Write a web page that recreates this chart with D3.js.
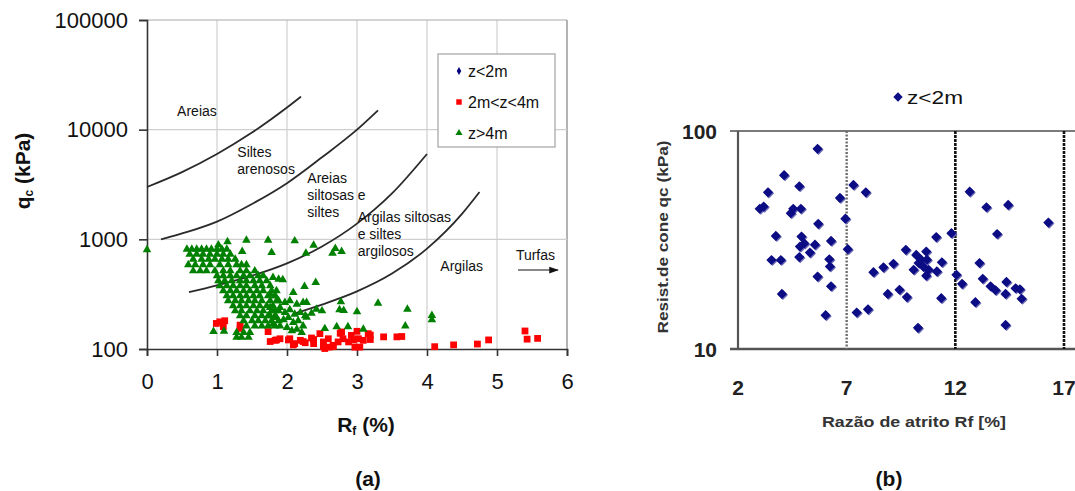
<!DOCTYPE html>
<html><head><meta charset="utf-8">
<script src="https://cdn.jsdelivr.net/npm/d3@7"></script>
<style>
body{margin:0;background:#fff;}
svg{display:block;font-family:"Liberation Sans",Arial,sans-serif;}
</style></head>
<body><svg id="c" width="1075" height="491"></svg>
<script>
// ---------- DATA: panel (a) ----------
const xTicksA = [0,1,2,3,4,5,6];
const yTicksA = [100,1000,10000,100000];
const seriesNamesA = ["z<2m","2m<z<4m","z>4m"];
// boundary curves [Rf %, qc kPa]
const boundary1 = [[0,3000],[0.5,4100],[1,6000],[1.5,9400],[2.0,15900],[2.2,20000]];
const boundary2 = [[0.2,1000],[0.6,1180],[1,1450],[1.5,2100],[2,3250],[2.5,5600],[3,10000],[3.3,15000]];
const boundary3 = [[0.6,330],[1,380],[1.5,466],[2,604],[2.5,861],[3,1390],[3.5,2620],[4,6000]];
const boundary4 = [[2.1,210],[2.5,254],[3,335],[3.5,487],[4,823],[4.5,1707],[4.75,2700]];
// 2m<z<4m (red squares)
const redPts = [[0.99,171],[1.04,177],[1.11,181],[1.09,160],[1.33,165],[1.33,154],
 [1.73,144],[1.76,117],[1.83,120],[1.85,121],[1.9,124],[2.02,121],[2.04,124],[2.09,109],[2.11,112],
 [2.19,120],[2.23,117],[2.26,114],[2.35,126],[2.38,112],[2.38,122],[2.47,138],[2.52,116],[2.52,105],
 [2.54,101],[2.59,124],[2.6,104],[2.66,108],[2.66,105],[2.73,116],[2.76,139],[2.78,143],[2.8,124],
 [2.88,116],[2.92,133],[2.95,121],[2.97,104],[3.0,145],[3.02,124],[3.04,104],[3.09,120],[3.16,138],
 [3.19,122],[3.19,134],[3.38,129],[3.57,129],[3.64,130],[4.11,105],[4.38,109],[4.72,111],[4.88,121],
 [5.4,146],[5.43,123],[5.58,125]];
// z>4m (green triangles)
const greenPts = [
 [0.0,811],[1.02,900],[1.15,959],[1.42,990],[1.73,990],[1.36,782],
 [0.57,821],[0.64,821],[0.71,821],[0.78,821],[0.85,821],[0.92,821],[1.0,821],[1.07,821],[1.14,821],
 [0.61,739],[0.71,739],[0.80,739],[0.90,739],[1.0,739],[1.09,739],[1.19,739],
 [0.66,665],[0.78,665],[0.88,665],[0.97,665],[1.07,665],[1.16,665],[1.26,665],
 [0.59,592],[0.69,592],[0.80,592],[0.90,592],[1.04,592],[1.16,592],[1.28,592],[1.35,592],[1.42,592],
 [0.66,521],[0.76,521],[0.85,521],[0.97,521],[1.09,521],[1.19,521],[1.33,521],[1.42,521],[1.54,521],
 [1.0,470],[1.09,470],[1.19,470],[1.28,470],[1.38,470],[1.47,470],[1.59,470],[1.66,470],
 [1.02,423],[1.11,423],[1.21,423],[1.33,423],[1.42,423],[1.52,423],[1.61,423],[1.71,423],
 [1.04,381],[1.14,381],[1.23,381],[1.33,381],[1.42,381],[1.54,381],[1.64,381],[1.76,381],
 [1.09,343],[1.19,343],[1.28,343],[1.38,343],[1.47,343],[1.57,343],[1.66,343],[1.78,343],[1.85,343],
 [1.14,309],[1.23,309],[1.33,309],[1.42,309],[1.52,309],[1.61,309],[1.73,309],[1.83,309],
 [1.16,278],[1.26,278],[1.35,278],[1.45,278],[1.54,278],[1.64,278],[1.76,278],[1.85,278],
 [1.23,250],[1.33,250],[1.42,250],[1.52,250],[1.61,250],[1.71,250],[1.80,250],
 [1.26,225],[1.35,225],[1.47,225],[1.57,225],[1.66,225],[1.78,225],[1.88,225],
 [1.33,203],[1.42,203],[1.54,203],[1.64,203],[1.73,203],[1.83,203],
 [1.38,183],[1.50,183],[1.59,183],[1.69,183],[1.78,183],[1.88,183],
 [1.42,164],[1.54,164],[1.64,164],[1.73,164],[1.83,164],
 [1.28,143],[1.38,143],[1.47,143],[1.28,129],[1.35,129],[1.45,129],[0.95,146],[1.10,147],
 [1.76,242],[1.83,225],[1.90,242],[1.97,217],[2.04,230],[2.11,210],[2.19,217],[2.26,203],
 [1.76,203],[1.85,196],[1.95,187],[2.02,196],[2.09,176],[2.16,183],[2.23,164],[1.80,170],
 [1.90,164],[2.0,159],[2.07,148],[2.14,153],[2.21,143],
 [1.78,766],[2.11,979],[2.38,893],[2.27,755],[2.69,833],[2.65,755],[2.78,782],
 [1.80,453],[1.88,437],[1.94,432],[2.25,375],[2.41,408],[2.09,331],[1.76,319],[1.83,309],
 [1.88,278],[1.97,268],[2.04,278],[2.14,259],[2.23,268],[2.28,268],
 [2.42,233],[2.5,225],[2.35,214],[2.77,272],[2.75,230],[2.81,227],[3.0,221],[3.30,264],
 [3.72,233],[3.69,164],[2.54,155],[2.71,161],[2.87,161],[3.09,153],[4.07,204],[4.07,187],[2.28,197]];

// ---------- DATA: panel (b) ----------
const xTicksB = [2,7,12,17];
const yTicksB = [10,100];
const dividersB = [7,12,17];
const seriesNameB = "z<2m";
const bRf = [5.66,4.12,3.38,4.82,3.0,3.18,4.43,4.54,4.89,5.69,6.69,6.94,7.05,3.74,3.54,3.97,4.02,
 4.92,5.05,4.85,5.31,5.54,4.82,6.28,6.2,6.23,5.66,6.28,6.03,7.31,7.88,7.46,7.98,8.23,8.69,9.15,8.89,
 9.43,9.77,9.72,10.28,10.08,10.2,10.31,10.42,10.66,10.69,10.54,10.66,10.77,11.15,11.12,11.38,11.35,
 11.82,12.05,12.31,12.66,12.92,13.11,13.26,13.43,13.62,13.85,13.92,14.31,14.35,14.43,14.31,14.77,
 14.97,15.05,16.28];
const bQc = [82.8,62.7,52.3,55.8,44,45,42,44,44,37.5,49.3,39.6,28.7,33,25.6,25.6,17.9,
 32.8,30.5,29.5,27.7,30.1,26.4,31.3,25.8,23.9,21.5,19.4,14.3,56.6,52.3,14.7,15.2,22.5,23.7,24.6,17.9,
 18.7,17.3,28.5,12.5,23.1,27.0,24.8,25.7,28.0,25.7,23.8,21.7,23.1,22.7,32.6,25.0,17.1,
 34.0,21.9,19.9,52.7,16.4,24.8,21.0,44.7,19.4,18.6,33.7,17.9,20.3,45.8,12.9,19.0,
 18.8,17.0,38.0];

const svg = d3.select("#c");
const FONT = '"Liberation Sans",Arial,sans-serif';

// ================= PANEL A =================
const xA = d3.scaleLinear().domain([0,6]).range([147,567]);
const yA = d3.scaleLog().domain([100,100000]).range([349,20]);
const gA = svg.append("g");

// gridlines
gA.append("g").selectAll("line").data(xTicksA.filter(d=>d>0)).join("line")
  .attr("x1",d=>xA(d)).attr("x2",d=>xA(d)).attr("y1",yA(100000)).attr("y2",yA(100))
  .attr("stroke",d=>d===6?"#9a9a9a":"#cfcfcf").attr("stroke-width",d=>d===6?1.5:1.2);
gA.append("g").selectAll("line").data(yTicksA.filter(d=>d>100)).join("line")
  .attr("x1",xA(0)).attr("x2",xA(6)).attr("y1",d=>yA(d)).attr("y2",d=>yA(d))
  .attr("stroke",d=>d===100000?"#a8a8a8":"#cfcfcf").attr("stroke-width",1.2);

// axes
const axL = gA.append("g").attr("transform",`translate(${xA(0)},0)`)
  .call(d3.axisLeft(yA).tickValues(yTicksA).tickFormat(d3.format("d")).tickSize(8).tickPadding(11));
const axB = gA.append("g").attr("transform",`translate(0,${yA(100)})`)
  .call(d3.axisBottom(xA).tickValues(xTicksA).tickFormat(d3.format("d")).tickSize(7).tickPadding(17));
[axL,axB].forEach(a=>{
  a.selectAll("path,line").attr("stroke","#333").attr("stroke-width",1.6);
  a.selectAll("text").attr("font-family",FONT).attr("font-size",22).attr("fill","#111");
});

// boundary curves
const lineA = d3.line().x(d=>xA(d[0])).y(d=>yA(d[1])).curve(d3.curveMonotoneX);
[boundary1,boundary2,boundary3,boundary4].forEach(b=>{
  gA.append("path").attr("d",lineA(b)).attr("fill","none").attr("stroke","#2a2a2a").attr("stroke-width",1.8);
});

// zone labels
const zoneLabels = [
  {x:0.43,y:13300,lines:["Areias"]},
  {x:1.29,y:5620,lines:["Siltes","arenosos"]},
  {x:2.29,y:3260,lines:["Areias","siltosas e","siltes"]},
  {x:3.01,y:1440,lines:["Argilas siltosas","e siltes","argilosos"]},
  {x:4.19,y:514,lines:["Argilas"]},
  {x:5.27,y:648,lines:["Turfas"]}
];
zoneLabels.forEach(l=>{
  const t = gA.append("text").attr("x",xA(l.x)).attr("y",yA(l.y))
    .attr("font-family",FONT).attr("font-size",14).attr("fill","#111");
  l.lines.forEach((s,i)=>t.append("tspan").attr("x",xA(l.x)).attr("dy",i?17:0).text(s));
});
// Turfas arrow
svg.append("defs").append("marker").attr("id","ah").attr("viewBox","0 0 10 10")
  .attr("refX",9).attr("refY",5).attr("markerWidth",8).attr("markerHeight",8).attr("orient","auto")
  .append("path").attr("d","M0,1.5L10,5L0,8.5Z").attr("fill","#111");
gA.append("line").attr("x1",xA(5.3)).attr("x2",xA(5.87)).attr("y1",yA(525)).attr("y2",yA(525))
  .attr("stroke","#111").attr("stroke-width",1.2).attr("marker-end","url(#ah)");

// points
const sq = d3.symbol().type(d3.symbolSquare).size(46);
const tri = d3.symbol().type(d3.symbolTriangle).size(32);
gA.append("g").selectAll("path").data(redPts).join("path")
  .attr("d",sq).attr("transform",d=>`translate(${xA(d[0])},${yA(d[1])})`).attr("fill","#ff0000");
gA.append("g").selectAll("path").data(greenPts).join("path")
  .attr("d",tri).attr("transform",d=>`translate(${xA(d[0])},${yA(d[1])+0.5})`).attr("fill","#008000");

// legend (a)
const lg = gA.append("g");
lg.append("rect").attr("x",438).attr("y",54).attr("width",117).attr("height",93)
  .attr("fill","#fff").attr("stroke","#aaa").attr("stroke-width",1.3);
const legSyms = [{s:d3.symbol().type(d3.symbolDiamond).size(18),c:"#000080"},
                 {s:d3.symbol().type(d3.symbolSquare).size(30),c:"#ff0000"},
                 {s:d3.symbol().type(d3.symbolTriangle).size(22),c:"#008000"}];
seriesNamesA.forEach((n,i)=>{
  const yy = 71 + i*31;
  lg.append("path").attr("d",legSyms[i].s).attr("transform",`translate(459,${yy})`).attr("fill",legSyms[i].c);
  lg.append("text").attr("x",468).attr("y",yy).attr("dy","0.35em").attr("font-family",FONT)
    .attr("font-size",16).attr("fill","#111").text(n);
});

// axis titles (a)
const yt = svg.append("text").attr("transform","translate(30,171) rotate(-90)")
  .attr("text-anchor","middle").attr("font-family",FONT).attr("font-weight","bold").attr("font-size",21).attr("fill","#111");
yt.append("tspan").text("q");
yt.append("tspan").attr("font-size",12).attr("dy",3).text("c");
yt.append("tspan").attr("dy",-3).text(" (kPa)");
const xt = svg.append("text").attr("x",366).attr("y",432)
  .attr("text-anchor","middle").attr("font-family",FONT).attr("font-weight","bold").attr("font-size",21).attr("fill","#111");
xt.append("tspan").text("R");
xt.append("tspan").attr("font-size",12).attr("dy",3).text("f");
xt.append("tspan").attr("dy",-3).text(" (%)");
svg.append("text").attr("x",368).attr("y",486).attr("text-anchor","middle").attr("font-family",FONT)
  .attr("font-weight","bold").attr("font-size",21).attr("fill","#111").text("(a)");

// ================= PANEL B =================
const xB = d3.scaleLinear().domain([2,17]).range([738,1064]);
const yB = d3.scaleLog().domain([10,100]).range([349,131]);
const gB = svg.append("g");
const bData = bRf.map((r,i)=>[r,bQc[i]]);

// frame lines
gB.append("line").attr("x1",730).attr("x2",1075).attr("y1",yB(100)).attr("y2",yB(100)).attr("stroke","#7a7a7a").attr("stroke-width",2.2);
gB.append("line").attr("x1",730).attr("x2",1075).attr("y1",yB(10)).attr("y2",yB(10)).attr("stroke","#555").attr("stroke-width",2.5);
gB.append("line").attr("x1",xB(2)).attr("x2",xB(2)).attr("y1",yB(100)).attr("y2",yB(10)).attr("stroke","#555").attr("stroke-width",2.2);
gB.append("g").selectAll("line").data(dividersB).join("line")
  .attr("x1",d=>xB(d)).attr("x2",d=>xB(d)).attr("y1",yB(100)).attr("y2",yB(10))
  .attr("stroke",d=>d===7?"#6e6e6e":"#111").attr("stroke-width",d=>d===7?2.4:2.6)
  .attr("stroke-dasharray",d=>d===7?"2,1.5":"3,1");

// tick labels (b)
gB.append("g").selectAll("text").data(yTicksB).join("text")
  .attr("x",717).attr("y",d=>yB(d)).attr("dy","0.36em").attr("text-anchor","end")
  .attr("font-family",FONT).attr("font-weight","bold").attr("font-size",21).attr("fill","#222").text(d=>d);
gB.append("g").selectAll("text").data(xTicksB).join("text")
  .attr("x",d=>xB(d)).attr("y",387).attr("dy","0.36em").attr("text-anchor","middle")
  .attr("font-family",FONT).attr("font-weight","bold").attr("font-size",21).attr("fill","#222").text(d=>d);

// diamonds
const diamond = d3.symbol().type(d3.symbolSquare).size(52);
gB.append("g").selectAll("path").data(bData).join("path")
  .attr("d",diamond).attr("transform",d=>`translate(${xB(d[0])+1},${yB(d[1])+1}) rotate(45)`).attr("fill","#6a6ab4");
gB.append("g").selectAll("path").data(bData).join("path")
  .attr("d",diamond).attr("transform",d=>`translate(${xB(d[0])},${yB(d[1])}) rotate(45)`).attr("fill","#0c0c84");

// legend (b)
gB.append("path").attr("d",d3.symbol().type(d3.symbolSquare).size(44)).attr("transform","translate(898,97) rotate(45)").attr("fill","#0c0c84");
gB.append("text").attr("x",907).attr("y",97).attr("dy","0.36em").attr("font-family",FONT)
  .attr("font-size",19).attr("fill","#111").attr("textLength",56).attr("lengthAdjust","spacingAndGlyphs").text(seriesNameB);

// axis titles (b)
svg.append("text").attr("transform","translate(668,237) rotate(-90)").attr("text-anchor","middle")
  .attr("font-family",FONT).attr("font-weight","bold").attr("font-size",14).attr("fill","#333")
  .attr("textLength",193).attr("lengthAdjust","spacingAndGlyphs").text("Resist.de cone qc (kPa)");
svg.append("text").attr("x",914).attr("y",427).attr("text-anchor","middle")
  .attr("font-family",FONT).attr("font-weight","bold").attr("font-size",14).attr("fill","#333")
  .attr("textLength",184).attr("lengthAdjust","spacingAndGlyphs").text("Razão de atrito Rf [%]");
svg.append("text").attr("x",889).attr("y",486).attr("text-anchor","middle").attr("font-family",FONT)
  .attr("font-weight","bold").attr("font-size",21).attr("fill","#111").text("(b)");
</script></body></html>
